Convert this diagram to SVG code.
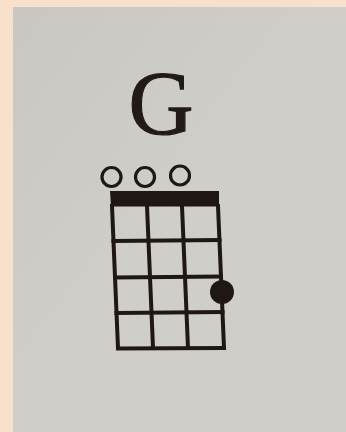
<svg xmlns="http://www.w3.org/2000/svg" width="346" height="432" viewBox="0 0 346 432">
  <defs>
    <linearGradient id="paper" x1="0" y1="0" x2="1" y2="1">
      <stop offset="0" stop-color="#c9c7c2"/>
      <stop offset="0.5" stop-color="#d0cec9"/>
      <stop offset="1" stop-color="#cfcdc8"/>
    </linearGradient>
  </defs>
  <style>
    .ln { stroke: #1e1715; stroke-width: 4; fill: none; stroke-linecap: square; }
    .open { stroke: #1e1715; stroke-width: 3.2; fill: none; }
    .dot { fill: #1e1715; }
    .title { font-family: "Liberation Serif", "Times New Roman", serif; font-size: 90px; fill: #221a17; stroke: #221a17; stroke-width: 1.2; }
  </style>
  <rect x="0" y="0" width="346" height="432" fill="#f8e1ca"/>
  <rect x="13" y="7" width="333" height="425" fill="url(#paper)"/>

  <g id="title">
    <text class="title" x="161" y="134" text-anchor="middle">G</text>
  </g>

  <g id="open-strings">
    <circle class="open" cx="111.5" cy="177" r="9.5"/>
    <circle class="open" cx="145" cy="177" r="9.5"/>
    <circle class="open" cx="180" cy="175.5" r="9.5"/>
  </g>

  <g id="fretboard">
    <polygon points="110,191 219,191 219,206.5 111,206.5" fill="#1e1715"/>
    <g id="strings">
      <line class="ln" x1="112" y1="206" x2="118" y2="348"/>
      <line class="ln" x1="147" y1="206" x2="153" y2="348"/>
      <line class="ln" x1="182" y1="206" x2="188" y2="348"/>
      <line class="ln" x1="218" y1="206" x2="224" y2="348"/>
    </g>
    <g id="frets">
      <line class="ln" x1="113.5" y1="241" x2="219.5" y2="240"/>
      <line class="ln" x1="115" y1="277.5" x2="221" y2="276.5"/>
      <line class="ln" x1="116.5" y1="313" x2="222.5" y2="312"/>
      <line class="ln" x1="118" y1="348.5" x2="224" y2="348"/>
    </g>
  </g>

  <g id="finger-dot">
    <circle class="dot" cx="222" cy="292" r="12"/>
  </g>
</svg>
